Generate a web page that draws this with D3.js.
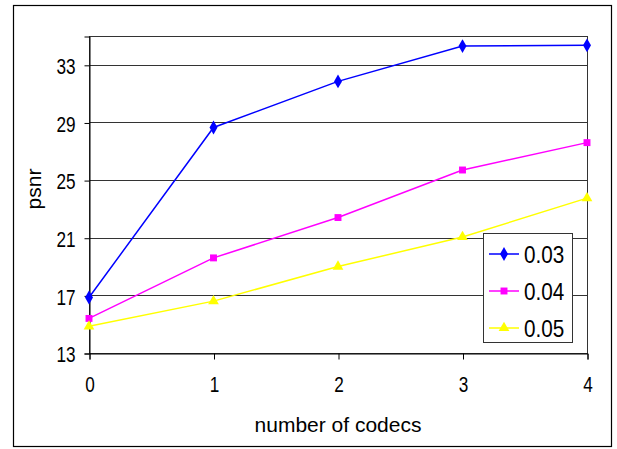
<!DOCTYPE html>
<html>
<head>
<meta charset="utf-8">
<script src="https://cdn.jsdelivr.net/npm/d3@7"></script>
<style>
  html, body { margin: 0; padding: 0; background: #fff; }
  svg { display: block; }
  text { font-family: "Liberation Sans", Arial, sans-serif; fill: #000; }
</style>
</head>
<body>
<svg id="chart" width="617" height="449"></svg>
<script>
// Codec count on x, PSNR on y, one series per rate
const codecs = [0, 1, 2, 3, 4];
const seriesNames = ["0.03", "0.04", "0.05"];
const psnr003 = [16.85, 28.65, 31.85, 34.3, 34.35];
const psnr004 = [15.4, 19.6, 22.4, 25.7, 27.6];
const psnr005 = [14.85, 16.6, 19.0, 21.05, 23.75];
const yTicks = [13, 17, 21, 25, 29, 33];
const xTicks = [0, 1, 2, 3, 4];

const series = [
  { name: seriesNames[0], values: psnr003, color: "#0000ff", marker: "diamond" },
  { name: seriesNames[1], values: psnr004, color: "#ff00ff", marker: "square" },
  { name: seriesNames[2], values: psnr005, color: "#ffff00", marker: "triangle" }
];

const narrow = 0.78; // horizontal squeeze for tick labels

const svg = d3.select("#chart");

// outer chart frame
svg.append("rect")
  .attr("x", 13.5).attr("y", 5.5)
  .attr("width", 598).attr("height", 441)
  .attr("fill", "#fff").attr("stroke", "#000").attr("stroke-width", 1.2);

const plot = { left: 89, right: 587, top: 36, bottom: 353 };

const x = d3.scaleLinear().domain([0, 4]).range([plot.left, plot.right]);
const y = d3.scaleLinear().domain([13, 35]).range([plot.bottom, plot.top]);

// horizontal gridlines
svg.append("g")
  .selectAll("line")
  .data(yTicks)
  .join("line")
  .attr("x1", plot.left).attr("x2", plot.right)
  .attr("y1", d => Math.round(y(d)) + 0.5).attr("y2", d => Math.round(y(d)) + 0.5)
  .attr("stroke", "#333").attr("stroke-width", 1);

// plot area border
svg.append("rect")
  .attr("x", plot.left + 0.5).attr("y", plot.top + 0.5)
  .attr("width", plot.right - plot.left).attr("height", plot.bottom - plot.top)
  .attr("fill", "none").attr("stroke", "#333").attr("stroke-width", 1);

// y axis
const yAxis = d3.axisLeft(y).tickValues(yTicks).tickSize(5).tickPadding(9).tickFormat(d3.format("d"));
const gy = svg.append("g").attr("transform", `translate(${plot.left + 0.5},0.5)`).call(yAxis);
gy.select(".domain").attr("stroke", "#000");
gy.selectAll(".tick line").attr("stroke", "#000");
gy.selectAll("text")
  .attr("font-size", 22).attr("font-family", null)
  .attr("dy", "0.37em")
  .attr("x", -14 / narrow)
  .attr("transform", `scale(${narrow},1)`);

// x axis
const xAxis = d3.axisBottom(x).tickValues(xTicks).tickSize(6).tickPadding(17).tickFormat(d3.format("d"));
const gx = svg.append("g").attr("transform", `translate(0.5,${plot.bottom + 0.5})`).call(xAxis);
gx.select(".domain").attr("stroke", "#000");
gx.selectAll(".tick line").attr("stroke", "#000");
gx.selectAll("text")
  .attr("font-size", 22).attr("font-family", null)
  .attr("transform", `scale(${narrow},1)`);

// axis titles
svg.append("text")
  .attr("x", 338).attr("y", 432)
  .attr("text-anchor", "middle").attr("font-size", 21)
  .text("number of codecs");

svg.append("text")
  .attr("transform", `translate(41,189) rotate(-90)`)
  .attr("text-anchor", "middle").attr("font-size", 21)
  .text("psnr");

// marker shapes
const symbolFor = {
  diamond: d3.symbol().type(d3.symbolDiamond).size(55),
  square: d3.symbol().type(d3.symbolSquare).size(48),
  triangle: d3.symbol().type(d3.symbolTriangle).size(50)
};

const line = d3.line().x((d, i) => x(codecs[i])).y(d => y(d));

series.forEach(s => {
  svg.append("path")
    .datum(s.values)
    .attr("d", line)
    .attr("fill", "none")
    .attr("stroke", s.color)
    .attr("stroke-width", 1.5);
  svg.append("g")
    .selectAll("path")
    .data(s.values)
    .join("path")
    .attr("transform", (d, i) => `translate(${x(codecs[i])},${y(d)})`)
    .attr("d", symbolFor[s.marker])
    .attr("fill", s.color);
});

// legend
const legend = svg.append("g");
legend.append("rect")
  .attr("x", 483.5).attr("y", 233.5)
  .attr("width", 89).attr("height", 109)
  .attr("fill", "#fff").attr("stroke", "#333").attr("stroke-width", 1);

series.forEach((s, i) => {
  const cy = 254 + i * 37;
  legend.append("line")
    .attr("x1", 489).attr("x2", 519)
    .attr("y1", cy).attr("y2", cy)
    .attr("stroke", s.color).attr("stroke-width", 1.5);
  legend.append("path")
    .attr("transform", `translate(504,${cy})`)
    .attr("d", symbolFor[s.marker])
    .attr("fill", s.color);
  legend.append("text")
    .attr("transform", `translate(524,${cy + 8.5}) scale(0.9,1)`)
    .attr("font-size", 23)
    .text(s.name);
});
</script>
</body>
</html>
